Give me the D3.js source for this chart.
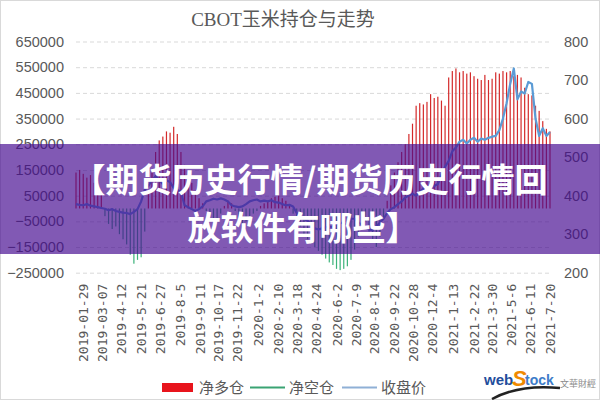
<!DOCTYPE html>
<html>
<head>
<meta charset="utf-8">
<script src="https://cdn.jsdelivr.net/npm/d3@7"></script>
<style>
  body { margin: 0; background: #fff; }
</style>
</head>
<body>
<svg id="chart" width="600" height="400"></svg>
<script>
// ---- data (weekly) ----
const weekStart = "2019-01-15";
const weekEnd = "2021-07-20";

const tickLabels = ["2019-01-29", "2019-03-07", "2019-4-12", "2019-5-21", "2019-6-27", "2019-8-5",
  "2019-9-11", "2019-10-17", "2019-11-22", "2020-1-2", "2020-2-10", "2020-3-18", "2020-4-24",
  "2020-6-2", "2020-7-9", "2020-8-14", "2020-9-22", "2020-10-28", "2020-12-4", "2021-1-13",
  "2021-2-22", "2021-3-30", "2021-5-6", "2021-6-11", "2021-7-20"];

const leftTicks = [650000, 550000, 450000, 350000, 250000, 150000, 50000, -50000, -150000, -250000];
const rightTicks = [800, 700, 600, 500, 400, 300, 200];

// net position (positive = 净多仓, negative = 净空仓)
const netPos = [
  140000, 150000, 135000, 120000, 130000, 100000, 80000, 60000, -30000, -60000,
  -80000, -70000, -100000, -120000, -140000, -180000, -215000, -200000, -190000, -90000,
  60000, 150000, 220000, 265000, 280000, 300000, 295000, 318000, 290000, 220000,
  170000, 130000, 100000, 70000, 40000, 20000, -10000, -30000, -50000, -40000,
  -20000, 10000, 30000, 20000, -10000, -40000, -60000, -50000, -30000, -20000,
  -10000, 10000, 20000, 30000, 40000, 45000, 50000, 40000, 30000, 10000,
  -20000, -40000, -70000, -100000, -120000, -135000, -150000, -165000, -180000, -195000,
  -210000, -220000, -235000, -240000, -235000, -225000, -200000, -160000, -110000, -70000,
  -50000, -90000, -130000, -150000, -110000, -40000, 30000, 90000, 140000, 180000,
  220000, 250000, 290000, 330000, 400000, 410000, 405000, 415000, 445000, 430000,
  435000, 420000, 400000, 510000, 535000, 545000, 530000, 535000, 525000, 530000,
  515000, 505000, 500000, 520000, 500000, 505000, 530000, 525000, 535000, 530000,
  535000, 515000, 520000, 510000, 470000, 445000, 440000, 400000, 380000, 340000,
  310000, 300000
];

// 收盘价
const closePrice = [
  378, 376, 375, 378, 374, 372, 370, 368, 366, 362,
  365, 360, 358, 356, 355, 352, 358, 365, 385, 415,
  425, 440, 450, 440, 430, 440, 435, 420, 415, 410,
  375, 370, 365, 360, 365, 372, 385, 388, 392, 390,
  393, 390, 385, 375, 372, 370, 372, 378, 385, 388,
  390, 385, 387, 385, 388, 383, 382, 378, 375, 376,
  372, 355, 345, 340, 335, 325, 315, 312, 315, 318,
  320, 318, 325, 330, 328, 322, 340, 340, 330, 325,
  318, 312, 310, 320, 330, 340, 355, 365, 370, 378,
  385, 395, 400, 405, 400, 410, 418, 425, 420, 425,
  430, 455, 475, 490, 515, 525, 540, 545, 535, 545,
  550, 540, 548, 545, 550, 553, 555, 570, 600, 640,
  690, 730, 650, 670, 665, 695, 690, 600, 555, 575,
  555, 565
];

const seriesNames = ["净多仓", "净空仓", "收盘价"];
const chartTitle = "CBOT玉米持仓与走势";
const bannerLines = ["【期货历史行情/期货历史行情回", "放软件有哪些】"];

// ---- setup ----
const svg = d3.select("#chart");
const width = 600, height = 400;
const plot = { left: 76, right: 550, top: 41.5, bottom: 272.7 };

const parse = d3.timeParse("%Y-%m-%d");
const weeks = d3.timeTuesday.range(parse(weekStart), d3.timeDay.offset(parse(weekEnd), 1));
const data = weeks.map((d, i) => ({ date: d, pos: netPos[i], price: closePrice[i] }));

const x = d3.scaleTime().domain([parse(weekStart), parse(weekEnd)]).range([plot.left, plot.right]);
const yL = d3.scaleLinear().domain([-250000, 650000]).range([plot.bottom, plot.top]);
const yR = d3.scaleLinear().domain([200, 800]).range([plot.bottom, plot.top]);

svg.append("rect")
  .attr("x", 0.5).attr("y", 0.5).attr("width", width - 1).attr("height", height - 1)
  .attr("fill", "#fff").attr("stroke", "#d9d9d9");

// title
svg.append("text")
  .attr("x", 283).attr("y", 26)
  .attr("text-anchor", "middle")
  .attr("font-family", "'Liberation Serif', 'Noto Sans CJK SC', serif")
  .attr("font-size", "19px")
  .attr("fill", "#595959")
  .text(chartTitle);

// grid
const grid = svg.append("g")
  .attr("transform", `translate(${plot.left},0)`)
  .call(d3.axisLeft(yL).tickValues(leftTicks).tickSize(-(plot.right - plot.left)).tickFormat(""));
grid.select(".domain").remove();
grid.selectAll("line").attr("stroke", "#d9d9d9").attr("stroke-dasharray", "4,3");

// left axis labels
const axL = svg.append("g")
  .attr("transform", `translate(${plot.left},0)`)
  .call(d3.axisLeft(yL).tickValues(leftTicks).tickSize(0).tickPadding(12).tickFormat(d3.format("d")));
axL.select(".domain").remove();
axL.selectAll("text")
  .attr("font-family", "'Liberation Sans', Arial, sans-serif")
  .attr("font-size", "14.5px").attr("fill", "#595959");

// right axis labels
const axR = svg.append("g")
  .attr("transform", `translate(${plot.right},0)`)
  .call(d3.axisRight(yR).tickValues(rightTicks).tickSize(0).tickPadding(14));
axR.select(".domain").remove();
axR.selectAll("text")
  .attr("font-family", "'Liberation Sans', Arial, sans-serif")
  .attr("font-size", "14.5px").attr("fill", "#595959");

// x axis labels (rotated)
const tickDates = tickLabels.map(parse);
const axX = svg.append("g")
  .attr("transform", `translate(0,${plot.bottom})`)
  .call(d3.axisBottom(x).tickValues(tickDates).tickSize(0)
    .tickFormat((d, i) => tickLabels[i]));
axX.select(".domain").remove();
axX.selectAll("text")
  .attr("font-family", "'DejaVu Sans Mono', monospace")
  .attr("font-size", "13px").attr("fill", "#595959")
  .attr("text-anchor", "end")
  .attr("transform", "rotate(-90)")
  .attr("x", -11).attr("y", 0).attr("dy", "0.35em");

// bars
const bars = svg.append("g");
bars.selectAll("rect")
  .data(data)
  .enter()
  .append("rect")
  .attr("x", d => x(d.date) - 0.6)
  .attr("width", 1.2)
  .attr("y", d => d.pos >= 0 ? yL(d.pos) : yL(0))
  .attr("height", d => Math.abs(yL(d.pos) - yL(0)))
  .attr("fill", d => d.pos >= 0 ? "#d42a2a" : "#3cb37a");

// price line
const line = d3.line().x(d => x(d.date)).y(d => yR(d.price));
svg.append("path")
  .datum(data)
  .attr("d", line)
  .attr("fill", "none")
  .attr("stroke", "#5b9bd5")
  .attr("stroke-width", 2.2)
  .attr("stroke-linejoin", "round");

// legend
const legend = svg.append("g").attr("font-family", "'Noto Sans CJK SC', sans-serif")
  .attr("font-size", "15px").attr("fill", "#595959");
legend.append("rect").attr("x", 162).attr("y", 383).attr("width", 31).attr("height", 9).attr("fill", "#e8141c");
legend.append("text").attr("x", 199).attr("y", 393).text(seriesNames[0]);
legend.append("line").attr("x1", 250).attr("x2", 285).attr("y1", 387.5).attr("y2", 387.5)
  .attr("stroke", "#3aa373").attr("stroke-width", 2);
legend.append("text").attr("x", 289).attr("y", 393).text(seriesNames[1]);
legend.append("line").attr("x1", 342).attr("x2", 377).attr("y1", 387.5).attr("y2", 387.5)
  .attr("stroke", "#8fb0d6").attr("stroke-width", 2);
legend.append("text").attr("x", 381).attr("y", 393).text(seriesNames[2]);

// webstock logo
const logo = svg.append("g").attr("font-family", "'Liberation Sans', Arial, sans-serif");
logo.append("path")
  .attr("d", "M492,399 Q520,384 560,388")
  .attr("fill", "none").attr("stroke", "#222").attr("stroke-width", 2.5);
logo.append("text").attr("x", 484).attr("y", 385).attr("font-size", "15px")
  .attr("font-weight", "bold").attr("fill", "#1f4e9c").text("web");
logo.append("text").attr("x", 512).attr("y", 386).attr("font-size", "22px")
  .attr("font-style", "italic").attr("font-weight", "bold").attr("fill", "#f08a00").text("S");
logo.append("text").attr("x", 525).attr("y", 385).attr("font-size", "14px")
  .attr("font-weight", "bold").attr("fill", "#3d7cc9").text("tock");
logo.append("text").attr("x", 560).attr("y", 387).attr("font-size", "9px")
  .attr("font-family", "'Noto Sans CJK TC', sans-serif").attr("fill", "#8a8a8a").text("文華財經");

// purple banner over the chart
svg.append("rect")
  .attr("x", 0).attr("y", 144).attr("width", width).attr("height", 110)
  .attr("fill", "rgb(70,10,145)").attr("fill-opacity", 0.68);
svg.append("g")
  .attr("font-family", "'Noto Sans CJK SC', sans-serif")
  .attr("font-weight", "bold").attr("font-size", "33px").attr("fill", "#fff")
  .attr("text-anchor", "middle")
  .selectAll("text")
  .data(bannerLines)
  .enter()
  .append("text")
  .attr("x", (d, i) => i === 0 ? 310 : 303)
  .attr("y", (d, i) => 192 + i * 48)
  .text(d => d);
</script>
</body>
</html>
